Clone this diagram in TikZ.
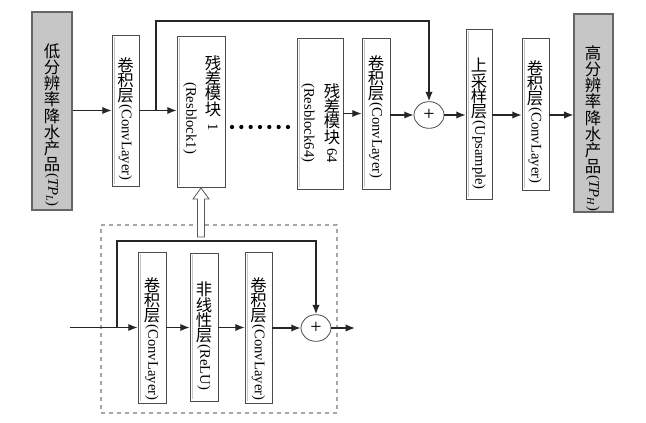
\documentclass[tikz,border=0pt]{standalone}
\usepackage{fontspec}
\setmainfont{Liberation Serif}
\newfontfamily\cjk{Noto Sans CJK SC}
\usetikzlibrary{arrows.meta,fit,shapes.geometric}
\newcommand{\C}[1]{{\cjk\fontsize{12.3}{11.5}\selectfont #1}}
\newcommand{\R}[1]{\rotatebox[origin=c]{-90}{#1}}
\begin{document}
\begin{tikzpicture}[x=0.75pt,y=-0.75pt,
  box/.style={draw=gray!60!black,line width=0.6pt,fill=white,inner sep=0pt},
  graybox/.style={draw=gray!80!black,line width=0.8pt,fill=gray!45,inner sep=0pt},
  vt/.style={anchor=north,inner sep=0pt,align=center,text=black,font=\fontsize{11}{11.5}\selectfont},
  vtg/.style={vt,font=\fontsize{11}{12.2}\selectfont},
  arr/.style={-{Latex[length=7pt,width=5.5pt]},line width=1pt,black!85},
  sumnode/.style={ellipse,draw=gray!60!black,line width=0.6pt,fill=white,minimum width=22.5pt,minimum height=20pt,inner sep=0pt,font=\fontsize{15}{15}\selectfont},
  dashbox/.style={draw=gray!70,dashed,line width=0.8pt}]
\useasboundingbox (0,0) rectangle (646,423);
\fill[white] (0,0) rectangle (646,423);
% top row boxes
\node[graybox,fit={(32,12) (72,210)}] (low) {};
\node[box,fit={(112,35) (139,186)}] (conv1) {};
\node[box,fit={(177,36) (225,187)}] (res1) {};
\node[box,fit={(297,38) (343,189)}] (res64) {};
\node[box,fit={(362,38) (390,189)}] (conv2) {};
\node[sumnode] (sum1) at (429,115) {+};
\node[box,fit={(466,29) (492,199)}] (ups) {};
\node[box,fit={(522,38) (549,190)}] (conv3) {};
\node[graybox,fit={(574,14) (613,212)}] (high) {};
% inner left lines of white boxes
\foreach \b in {conv1,res1,res64,conv2,ups,conv3}{
  \draw[gray!45,line width=0.5pt] ([xshift=2.2pt,yshift=-1.5pt]\b.north west) -- ([xshift=2.2pt,yshift=1.5pt]\b.south west);
}
% texts
\node[vtg] (tlow) at (52,43) {\C{低}\\\C{分}\\\C{辨}\\\C{率}\\\C{降}\\\C{水}\\\C{产}\\\C{品}\\\R{(\textit{TP}\textsubscript{\textit{L}})}};
\node[vt] (tconv1) at (125.5,57) {\C{卷}\\\C{积}\\\C{层}\\\R{(ConvLayer)}};
\node[vt] (tres1a) at (213,55) {\C{残}\\\C{差}\\\C{模}\\\C{块}\\\R{\ 1}};
\node[vt] (tres1b) at (190,82) {\R{(Resblock1)}};
\node[vt] (tres64a) at (332,83) {\C{残}\\\C{差}\\\C{模}\\\C{块}\\\R{\ 64}};
\node[vt] (tres64b) at (308,83) {\R{(Resblock64)}};
\node[vt] (tconv2) at (376,55) {\C{卷}\\\C{积}\\\C{层}\\\R{(ConvLayer)}};
\node[vt] (tups) at (479,58) {\C{上}\\\C{采}\\\C{样}\\\C{层}\\\R{(Upsample)}};
\node[vt] (tconv3) at (535,60) {\C{卷}\\\C{积}\\\C{层}\\\R{(ConvLayer)}};
\node[vtg] (thigh) at (593,45) {\C{高}\\\C{分}\\\C{辨}\\\C{率}\\\C{降}\\\C{水}\\\C{产}\\\C{品}\\\R{(\textit{TP}\textsubscript{\textit{H}})}};
% dots
\foreach \i in {0,...,6}{\fill[black] (232+\i*9.33,127) circle (1.6pt);}
% top connectors
\coordinate (br) at (156,110.5);
\coordinate (tp) at (156,21);
\draw[arr] (low.east |- conv1) -- (conv1.west);
\draw[arr] (conv1.east) -- (res1.west |- conv1);
\draw[arr] (br) -- (tp) -| (sum1.north);
\draw[arr] (res64.east) -- (conv2.west);
\draw[arr] (conv2.east |- sum1) -- (sum1.west);
\draw[arr] (sum1.east) -- (ups.west |- sum1);
\draw[arr] (ups.east |- sum1) -- (conv3.west |- sum1);
\draw[arr] (conv3.east |- sum1) -- (high.west |- sum1);
% bottom
\node[dashbox,fit={(101,225) (337,413)},inner sep=0pt] (dash) {};
\node[box,fit={(138,252) (166,403)}] (convA) {};
\node[box,fit={(190,253) (218,401)}] (relu) {};
\node[box,fit={(245,252) (272,403)}] (convB) {};
\foreach \b in {convA,relu,convB}{
  \draw[gray!45,line width=0.5pt] ([xshift=2.2pt,yshift=-1.5pt]\b.north west) -- ([xshift=2.2pt,yshift=1.5pt]\b.south west);
}
\node[sumnode] (sum2) at (316,328) {+};
\node[vt] (tconvA) at (152,277) {\C{卷}\\\C{积}\\\C{层}\\\R{(ConvLayer)}};
\node[vt] (trelu) at (204,282) {\C{非}\\\C{线}\\\C{性}\\\C{层}\\\R{(ReLU)}};
\node[vt] (tconvB) at (258.5,277) {\C{卷}\\\C{积}\\\C{层}\\\R{(ConvLayer)}};
\coordinate (in) at (70,327.5);
\coordinate (br2) at (117,327.5);
\coordinate (tp2) at (117,241);
\coordinate (out) at (355,328);
\draw[arr] (in) -- (convA.west |- in);
\draw[arr] (br2) -- (tp2) -| (sum2.north);
\draw[arr] (convA.east |- in) -- (relu.west |- in);
\draw[arr] (relu.east |- in) -- (convB.west |- in);
\draw[arr] (convB.east |- sum2) -- (sum2.west);
\draw[arr] (sum2.east) -- (out);
% hollow arrow
\draw[gray!70!black,line width=0.6pt,fill=white] (197.5,237) -- (197.5,199) -- (193,199) -- (201,188) -- (209,199) -- (204.5,199) -- (204.5,237) -- cycle;
\end{tikzpicture}
\end{document}
